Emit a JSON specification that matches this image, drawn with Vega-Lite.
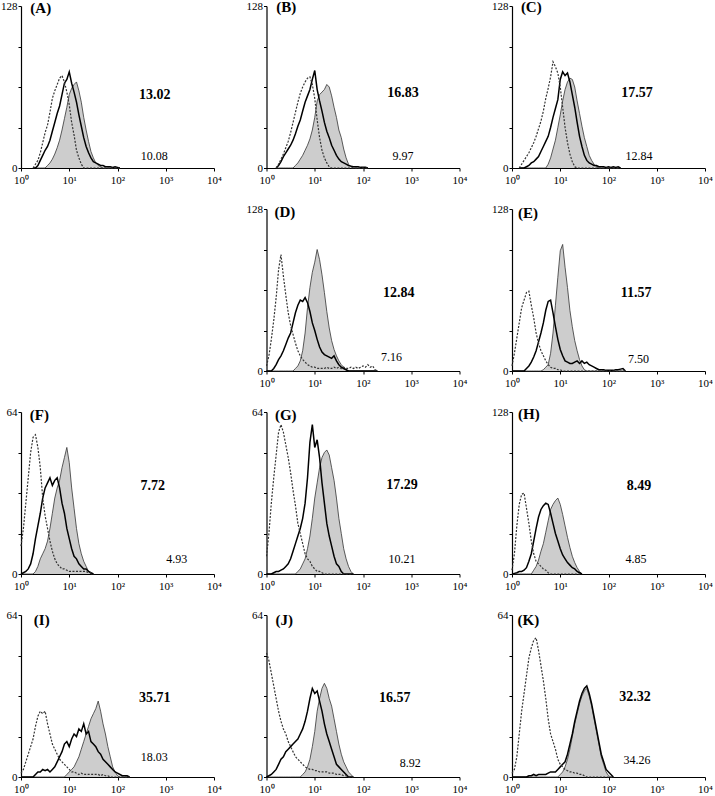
{
"$schema": "https://vega.github.io/schema/vega-lite/v6.json",
"padding": {"left": 0, "top": 0, "right": 0, "bottom": 0},
"background": "white",
"columns": 3,
"spacing": {"row": 41, "column": 52.5},
"bounds": "flush",
"config": {
  "view": {"stroke": null},
  "font": "Liberation Serif",
  "axis": {"domainColor": "black", "tickColor": "black", "labelColor": "black", "labelFont": "Liberation Serif", "labelFontSize": 11, "grid": false, "domainWidth": 1.2, "labelPadding": 1, "title": null},
  "axisX": {"labelPadding": 3},
  "text": {"font": "Liberation Serif", "color": "black"}
},
"datasets": {
"curves": [
{"p":"A","x":1.778,"g":0,"b":0,"d":0},{"p":"A","x":1.995,"g":0,"b":0,"d":3},{"p":"A","x":2.239,"g":0,"b":2,"d":6},{"p":"A","x":2.512,"g":0,"b":6,"d":12},{"p":"A","x":2.818,"g":0,"b":10,"d":20},{"p":"A","x":3.162,"g":0,"b":14,"d":28},{"p":"A","x":3.548,"g":2,"b":17,"d":34},{"p":"A","x":3.981,"g":4,"b":22,"d":44},{"p":"A","x":4.467,"g":7,"b":29,"d":55},{"p":"A","x":5.012,"g":11,"b":36,"d":61},{"p":"A","x":5.623,"g":16,"b":43,"d":66},{"p":"A","x":6.31,"g":22,"b":49,"d":71},{"p":"A","x":7.079,"g":30,"b":58,"d":73},{"p":"A","x":7.943,"g":39,"b":67,"d":68},{"p":"A","x":8.913,"g":48,"b":70,"d":60},{"p":"A","x":10,"g":58,"b":76,"d":50},{"p":"A","x":11.22,"g":63,"b":67,"d":36},{"p":"A","x":12.59,"g":66,"b":60,"d":26},{"p":"A","x":14.13,"g":68,"b":52,"d":14},{"p":"A","x":15.85,"g":61,"b":42,"d":8},{"p":"A","x":17.78,"g":52,"b":33,"d":3},{"p":"A","x":19.95,"g":40,"b":24,"d":0},{"p":"A","x":22.39,"g":30,"b":17,"d":0},{"p":"A","x":25.12,"g":21,"b":12,"d":0},{"p":"A","x":28.18,"g":13,"b":8,"d":0},{"p":"A","x":31.62,"g":8,"b":5,"d":0},{"p":"A","x":35.48,"g":4,"b":4,"d":0},{"p":"A","x":39.81,"g":2,"b":3,"d":0},{"p":"A","x":44.67,"g":1,"b":2,"d":0},{"p":"A","x":50.12,"g":0,"b":2,"d":0},{"p":"A","x":56.23,"g":0,"b":1,"d":0},{"p":"A","x":63.1,"g":0,"b":1,"d":0},{"p":"A","x":70.79,"g":0,"b":1,"d":0},{"p":"A","x":79.43,"g":0,"b":0.5,"d":0},{"p":"A","x":89.13,"g":0,"b":1,"d":0},{"p":"A","x":100,"g":0,"b":0.5,"d":0},{"p":"A","x":112.2,"g":0,"b":0,"d":0},
{"p":"B","x":1.585,"g":0,"b":0,"d":0},{"p":"B","x":1.778,"g":0,"b":2,"d":3},{"p":"B","x":1.995,"g":0,"b":5,"d":7},{"p":"B","x":2.239,"g":0,"b":9,"d":11},{"p":"B","x":2.512,"g":0,"b":12,"d":16},{"p":"B","x":2.818,"g":0,"b":15,"d":21},{"p":"B","x":3.162,"g":0,"b":18,"d":28},{"p":"B","x":3.548,"g":0,"b":22,"d":36},{"p":"B","x":3.981,"g":2,"b":27,"d":44},{"p":"B","x":4.467,"g":4,"b":33,"d":52},{"p":"B","x":5.012,"g":7,"b":38,"d":59},{"p":"B","x":5.623,"g":10,"b":45,"d":64},{"p":"B","x":6.31,"g":14,"b":52,"d":68},{"p":"B","x":7.079,"g":18,"b":57,"d":71},{"p":"B","x":7.943,"g":23,"b":62,"d":72},{"p":"B","x":8.913,"g":30,"b":70,"d":66},{"p":"B","x":10,"g":40,"b":77,"d":55},{"p":"B","x":11.22,"g":53,"b":62,"d":38},{"p":"B","x":12.59,"g":58,"b":53,"d":24},{"p":"B","x":14.13,"g":60,"b":45,"d":14},{"p":"B","x":15.85,"g":62,"b":36,"d":8},{"p":"B","x":17.78,"g":66,"b":29,"d":4},{"p":"B","x":19.95,"g":64,"b":24,"d":1},{"p":"B","x":22.39,"g":57,"b":18,"d":0},{"p":"B","x":25.12,"g":48,"b":14,"d":0},{"p":"B","x":28.18,"g":40,"b":10,"d":0},{"p":"B","x":31.62,"g":30,"b":7,"d":0},{"p":"B","x":35.48,"g":24,"b":5,"d":0},{"p":"B","x":39.81,"g":15,"b":4,"d":0},{"p":"B","x":44.67,"g":8,"b":3,"d":0},{"p":"B","x":50.12,"g":3,"b":2,"d":0},{"p":"B","x":56.23,"g":1,"b":1.5,"d":0},{"p":"B","x":63.1,"g":0,"b":1,"d":0},{"p":"B","x":70.79,"g":0,"b":1,"d":0},{"p":"B","x":79.43,"g":0,"b":1,"d":0},{"p":"B","x":89.13,"g":0,"b":0.5,"d":0},{"p":"B","x":100,"g":0,"b":0.5,"d":0},{"p":"B","x":112.2,"g":0,"b":0.5,"d":0},{"p":"B","x":125.9,"g":0,"b":0,"d":0},
{"p":"C","x":1.413,"g":0,"b":0,"d":0},{"p":"C","x":1.585,"g":0,"b":0,"d":3},{"p":"C","x":1.778,"g":0,"b":0,"d":6},{"p":"C","x":1.995,"g":0,"b":1,"d":9},{"p":"C","x":2.239,"g":0,"b":2,"d":12},{"p":"C","x":2.512,"g":0,"b":4,"d":16},{"p":"C","x":2.818,"g":0,"b":5,"d":20},{"p":"C","x":3.162,"g":0,"b":7,"d":25},{"p":"C","x":3.548,"g":0,"b":9,"d":31},{"p":"C","x":3.981,"g":0,"b":13,"d":37},{"p":"C","x":4.467,"g":0,"b":17,"d":45},{"p":"C","x":5.012,"g":0,"b":21,"d":55},{"p":"C","x":5.623,"g":3,"b":25,"d":63},{"p":"C","x":6.31,"g":8,"b":32,"d":72},{"p":"C","x":7.079,"g":15,"b":40,"d":84},{"p":"C","x":7.943,"g":22,"b":47,"d":80},{"p":"C","x":8.913,"g":32,"b":54,"d":75},{"p":"C","x":10,"g":42,"b":70,"d":64},{"p":"C","x":11.22,"g":53,"b":76,"d":48},{"p":"C","x":12.59,"g":62,"b":73,"d":32},{"p":"C","x":14.13,"g":68,"b":75,"d":20},{"p":"C","x":15.85,"g":71,"b":68,"d":11},{"p":"C","x":17.78,"g":70,"b":58,"d":5},{"p":"C","x":19.95,"g":64,"b":48,"d":1},{"p":"C","x":22.39,"g":53,"b":36,"d":0},{"p":"C","x":25.12,"g":43,"b":25,"d":0},{"p":"C","x":28.18,"g":33,"b":17,"d":0},{"p":"C","x":31.62,"g":24,"b":10,"d":0},{"p":"C","x":35.48,"g":17,"b":6,"d":0},{"p":"C","x":39.81,"g":10,"b":4,"d":0},{"p":"C","x":44.67,"g":6,"b":3,"d":0},{"p":"C","x":50.12,"g":3,"b":2,"d":0},{"p":"C","x":56.23,"g":1,"b":2,"d":0},{"p":"C","x":63.1,"g":0,"b":1,"d":0},{"p":"C","x":70.79,"g":0,"b":1,"d":0},{"p":"C","x":79.43,"g":0,"b":1,"d":0},{"p":"C","x":89.13,"g":0,"b":0.5,"d":0},{"p":"C","x":100,"g":0,"b":1,"d":0},{"p":"C","x":112.2,"g":0,"b":0.5,"d":0},{"p":"C","x":125.9,"g":0,"b":1,"d":0},{"p":"C","x":141.3,"g":0,"b":0.5,"d":0},{"p":"C","x":158.5,"g":0,"b":1,"d":0},{"p":"C","x":177.8,"g":0,"b":0,"d":0},
{"p":"D","x":1,"g":0,"b":0,"d":4},{"p":"D","x":1.122,"g":0,"b":0,"d":12},{"p":"D","x":1.259,"g":0,"b":0,"d":25},{"p":"D","x":1.413,"g":0,"b":2,"d":40},{"p":"D","x":1.585,"g":0,"b":5,"d":58},{"p":"D","x":1.778,"g":0,"b":9,"d":80},{"p":"D","x":1.995,"g":0,"b":12,"d":92},{"p":"D","x":2.239,"g":0,"b":16,"d":75},{"p":"D","x":2.512,"g":0,"b":21,"d":60},{"p":"D","x":2.818,"g":0,"b":26,"d":46},{"p":"D","x":3.162,"g":0,"b":30,"d":36},{"p":"D","x":3.548,"g":0,"b":38,"d":29},{"p":"D","x":3.981,"g":2,"b":46,"d":22},{"p":"D","x":4.467,"g":4,"b":52,"d":16},{"p":"D","x":5.012,"g":8,"b":56,"d":12},{"p":"D","x":5.623,"g":16,"b":55,"d":9},{"p":"D","x":6.31,"g":30,"b":58,"d":7},{"p":"D","x":7.079,"g":50,"b":54,"d":5},{"p":"D","x":7.943,"g":66,"b":47,"d":4},{"p":"D","x":8.913,"g":78,"b":38,"d":3},{"p":"D","x":10,"g":86,"b":32,"d":3},{"p":"D","x":11.22,"g":96,"b":25,"d":2},{"p":"D","x":12.59,"g":88,"b":19,"d":2},{"p":"D","x":14.13,"g":76,"b":15,"d":2},{"p":"D","x":15.85,"g":62,"b":13,"d":2},{"p":"D","x":17.78,"g":47,"b":12,"d":3},{"p":"D","x":19.95,"g":34,"b":11,"d":2},{"p":"D","x":22.39,"g":24,"b":10,"d":2},{"p":"D","x":25.12,"g":17,"b":12,"d":3},{"p":"D","x":28.18,"g":12,"b":8,"d":2},{"p":"D","x":31.62,"g":8,"b":5,"d":3},{"p":"D","x":35.48,"g":5,"b":3,"d":2},{"p":"D","x":39.81,"g":3,"b":2,"d":3},{"p":"D","x":44.67,"g":1,"b":1,"d":2},{"p":"D","x":50.12,"g":0,"b":0,"d":2},{"p":"D","x":56.23,"g":0,"b":0,"d":3},{"p":"D","x":63.1,"g":0,"b":0,"d":2},{"p":"D","x":70.79,"g":0,"b":0,"d":3},{"p":"D","x":79.43,"g":0,"b":0,"d":2},{"p":"D","x":89.13,"g":0,"b":0,"d":3},{"p":"D","x":100,"g":0,"b":0,"d":4},{"p":"D","x":112.2,"g":0,"b":0,"d":3},{"p":"D","x":125.9,"g":0,"b":0,"d":5},{"p":"D","x":141.3,"g":0,"b":0,"d":3},{"p":"D","x":158.5,"g":0,"b":0,"d":4},{"p":"D","x":177.8,"g":0,"b":0,"d":1},{"p":"D","x":199.5,"g":0,"b":0,"d":0},
{"p":"E","x":1,"g":0,"b":0,"d":4},{"p":"E","x":1.122,"g":0,"b":0,"d":14},{"p":"E","x":1.259,"g":0,"b":0,"d":26},{"p":"E","x":1.413,"g":0,"b":0,"d":38},{"p":"E","x":1.585,"g":0,"b":0,"d":50},{"p":"E","x":1.778,"g":0,"b":0,"d":56},{"p":"E","x":1.995,"g":0,"b":2,"d":62},{"p":"E","x":2.239,"g":0,"b":4,"d":63},{"p":"E","x":2.512,"g":0,"b":7,"d":52},{"p":"E","x":2.818,"g":0,"b":11,"d":42},{"p":"E","x":3.162,"g":0,"b":16,"d":30},{"p":"E","x":3.548,"g":0,"b":23,"d":22},{"p":"E","x":3.981,"g":0,"b":30,"d":16},{"p":"E","x":4.467,"g":1,"b":38,"d":12},{"p":"E","x":5.012,"g":3,"b":48,"d":8},{"p":"E","x":5.623,"g":5,"b":55,"d":5},{"p":"E","x":6.31,"g":14,"b":56,"d":3},{"p":"E","x":7.079,"g":30,"b":46,"d":2},{"p":"E","x":7.943,"g":52,"b":35,"d":2},{"p":"E","x":8.913,"g":74,"b":25,"d":1},{"p":"E","x":10,"g":95,"b":17,"d":1},{"p":"E","x":11.22,"g":100,"b":12,"d":0},{"p":"E","x":12.59,"g":82,"b":8,"d":0},{"p":"E","x":14.13,"g":66,"b":7,"d":0},{"p":"E","x":15.85,"g":48,"b":6,"d":0},{"p":"E","x":17.78,"g":35,"b":6,"d":0},{"p":"E","x":19.95,"g":24,"b":7,"d":0},{"p":"E","x":22.39,"g":16,"b":8,"d":0},{"p":"E","x":25.12,"g":9,"b":6,"d":0},{"p":"E","x":28.18,"g":4,"b":8,"d":0},{"p":"E","x":31.62,"g":1,"b":6,"d":0},{"p":"E","x":35.48,"g":0,"b":7,"d":0},{"p":"E","x":39.81,"g":0,"b":5,"d":0},{"p":"E","x":44.67,"g":0,"b":4,"d":0},{"p":"E","x":50.12,"g":0,"b":3,"d":0},{"p":"E","x":56.23,"g":0,"b":2,"d":0},{"p":"E","x":63.1,"g":0,"b":1,"d":0},{"p":"E","x":70.79,"g":0,"b":1,"d":0},{"p":"E","x":79.43,"g":0,"b":1,"d":0},{"p":"E","x":89.13,"g":0,"b":0.5,"d":0},{"p":"E","x":100,"g":0,"b":0.5,"d":0},{"p":"E","x":112.2,"g":0,"b":0.5,"d":0},{"p":"E","x":125.9,"g":0,"b":0.5,"d":0},{"p":"E","x":141.3,"g":0,"b":1,"d":0},{"p":"E","x":158.5,"g":0,"b":1,"d":0},{"p":"E","x":177.8,"g":0,"b":1.5,"d":0},{"p":"E","x":199.5,"g":0,"b":2,"d":0},{"p":"E","x":223.9,"g":0,"b":0,"d":0},
{"p":"F","x":1,"g":0,"b":0,"d":11},{"p":"F","x":1.122,"g":0,"b":0.5,"d":18},{"p":"F","x":1.259,"g":0,"b":1,"d":28},{"p":"F","x":1.413,"g":0,"b":2,"d":38},{"p":"F","x":1.585,"g":0,"b":4,"d":48},{"p":"F","x":1.778,"g":0,"b":8,"d":54},{"p":"F","x":1.995,"g":1,"b":14,"d":55},{"p":"F","x":2.239,"g":3,"b":19,"d":50},{"p":"F","x":2.512,"g":6,"b":24,"d":42},{"p":"F","x":2.818,"g":8,"b":30,"d":30},{"p":"F","x":3.162,"g":10,"b":34,"d":23},{"p":"F","x":3.548,"g":13,"b":36,"d":18},{"p":"F","x":3.981,"g":18,"b":38,"d":13},{"p":"F","x":4.467,"g":24,"b":35,"d":9},{"p":"F","x":5.012,"g":30,"b":37,"d":6},{"p":"F","x":5.623,"g":34,"b":38,"d":4},{"p":"F","x":6.31,"g":37,"b":34,"d":3},{"p":"F","x":7.079,"g":42,"b":28,"d":2},{"p":"F","x":7.943,"g":46,"b":24,"d":2},{"p":"F","x":8.913,"g":50,"b":18,"d":1.5},{"p":"F","x":10,"g":44,"b":14,"d":1},{"p":"F","x":11.22,"g":34,"b":10,"d":1},{"p":"F","x":12.59,"g":26,"b":7,"d":1},{"p":"F","x":14.13,"g":18,"b":6,"d":1},{"p":"F","x":15.85,"g":12,"b":4,"d":1},{"p":"F","x":17.78,"g":8,"b":3,"d":1},{"p":"F","x":19.95,"g":5,"b":2,"d":1},{"p":"F","x":22.39,"g":3,"b":2,"d":1},{"p":"F","x":25.12,"g":1,"b":1,"d":0.5},{"p":"F","x":28.18,"g":0,"b":0.5,"d":0.5},{"p":"F","x":31.62,"g":0,"b":0,"d":0},
{"p":"G","x":1,"g":0,"b":0,"d":7},{"p":"G","x":1.122,"g":0,"b":0,"d":16},{"p":"G","x":1.259,"g":0,"b":0,"d":28},{"p":"G","x":1.413,"g":0,"b":0.5,"d":38},{"p":"G","x":1.585,"g":0,"b":1,"d":47},{"p":"G","x":1.778,"g":0,"b":1,"d":56},{"p":"G","x":1.995,"g":0,"b":1.5,"d":59},{"p":"G","x":2.239,"g":0,"b":2,"d":56},{"p":"G","x":2.512,"g":0,"b":3,"d":51},{"p":"G","x":2.818,"g":0,"b":4,"d":46},{"p":"G","x":3.162,"g":0,"b":6,"d":40},{"p":"G","x":3.548,"g":0,"b":9,"d":33},{"p":"G","x":3.981,"g":0,"b":12,"d":27},{"p":"G","x":4.467,"g":1,"b":15,"d":20},{"p":"G","x":5.012,"g":2,"b":18,"d":16},{"p":"G","x":5.623,"g":4,"b":22,"d":12},{"p":"G","x":6.31,"g":6,"b":28,"d":8},{"p":"G","x":7.079,"g":10,"b":38,"d":6},{"p":"G","x":7.943,"g":15,"b":52,"d":5},{"p":"G","x":8.913,"g":22,"b":59,"d":3},{"p":"G","x":10,"g":30,"b":50,"d":2},{"p":"G","x":11.22,"g":36,"b":53,"d":1},{"p":"G","x":12.59,"g":42,"b":46,"d":1},{"p":"G","x":14.13,"g":46,"b":36,"d":0.5},{"p":"G","x":15.85,"g":48,"b":28,"d":0},{"p":"G","x":17.78,"g":49,"b":20,"d":0},{"p":"G","x":19.95,"g":47,"b":15,"d":0},{"p":"G","x":22.39,"g":42,"b":11,"d":0},{"p":"G","x":25.12,"g":37,"b":7,"d":0},{"p":"G","x":28.18,"g":30,"b":4,"d":0},{"p":"G","x":31.62,"g":22,"b":3,"d":0},{"p":"G","x":35.48,"g":16,"b":1,"d":0},{"p":"G","x":39.81,"g":10,"b":0,"d":0},{"p":"G","x":44.67,"g":6,"b":0,"d":0},{"p":"G","x":50.12,"g":3,"b":0,"d":0},{"p":"G","x":56.23,"g":1,"b":0,"d":0},{"p":"G","x":63.1,"g":0,"b":0,"d":0},
{"p":"H","x":1,"g":0,"b":0,"d":3},{"p":"H","x":1.122,"g":0,"b":0.5,"d":16},{"p":"H","x":1.259,"g":0,"b":1,"d":38},{"p":"H","x":1.413,"g":0,"b":2,"d":55},{"p":"H","x":1.585,"g":0,"b":2,"d":63},{"p":"H","x":1.778,"g":0,"b":3,"d":64},{"p":"H","x":1.995,"g":0,"b":5,"d":52},{"p":"H","x":2.239,"g":0,"b":10,"d":40},{"p":"H","x":2.512,"g":0,"b":16,"d":26},{"p":"H","x":2.818,"g":3,"b":26,"d":16},{"p":"H","x":3.162,"g":6,"b":36,"d":10},{"p":"H","x":3.548,"g":11,"b":45,"d":8},{"p":"H","x":3.981,"g":18,"b":51,"d":6},{"p":"H","x":4.467,"g":24,"b":54,"d":4},{"p":"H","x":5.012,"g":33,"b":56,"d":3},{"p":"H","x":5.623,"g":42,"b":55,"d":1},{"p":"H","x":6.31,"g":51,"b":48,"d":0},{"p":"H","x":7.079,"g":55,"b":40,"d":0},{"p":"H","x":7.943,"g":58,"b":32,"d":0},{"p":"H","x":8.913,"g":60,"b":26,"d":0},{"p":"H","x":10,"g":55,"b":20,"d":0},{"p":"H","x":11.22,"g":47,"b":15,"d":0},{"p":"H","x":12.59,"g":38,"b":12,"d":0},{"p":"H","x":14.13,"g":29,"b":9,"d":0},{"p":"H","x":15.85,"g":21,"b":7,"d":0},{"p":"H","x":17.78,"g":14,"b":5,"d":0},{"p":"H","x":19.95,"g":9,"b":4,"d":0},{"p":"H","x":22.39,"g":5,"b":2,"d":0},{"p":"H","x":25.12,"g":2,"b":1,"d":0},{"p":"H","x":28.18,"g":0,"b":0,"d":0},
{"p":"I","x":1,"g":0,"b":0,"d":1.5},{"p":"I","x":1.122,"g":0,"b":0,"d":3},{"p":"I","x":1.259,"g":0,"b":0,"d":6},{"p":"I","x":1.413,"g":0,"b":0,"d":9},{"p":"I","x":1.585,"g":0,"b":0,"d":12},{"p":"I","x":1.778,"g":0,"b":0,"d":15},{"p":"I","x":1.995,"g":0,"b":1,"d":20},{"p":"I","x":2.239,"g":0,"b":2,"d":24},{"p":"I","x":2.512,"g":0,"b":2,"d":26},{"p":"I","x":2.818,"g":0,"b":3,"d":25},{"p":"I","x":3.162,"g":0,"b":2.5,"d":26},{"p":"I","x":3.548,"g":0,"b":3,"d":21},{"p":"I","x":3.981,"g":0,"b":2,"d":17},{"p":"I","x":4.467,"g":0,"b":3,"d":13},{"p":"I","x":5.012,"g":0,"b":4,"d":11},{"p":"I","x":5.623,"g":0,"b":6,"d":9},{"p":"I","x":6.31,"g":0,"b":8,"d":7},{"p":"I","x":7.079,"g":0,"b":10,"d":6},{"p":"I","x":7.943,"g":0,"b":13,"d":5},{"p":"I","x":8.913,"g":1,"b":14,"d":4},{"p":"I","x":10,"g":2,"b":12,"d":3},{"p":"I","x":11.22,"g":3,"b":15,"d":2},{"p":"I","x":12.59,"g":4,"b":17,"d":2},{"p":"I","x":14.13,"g":6,"b":16,"d":1.5},{"p":"I","x":15.85,"g":8,"b":19,"d":1},{"p":"I","x":17.78,"g":11,"b":18,"d":1.5},{"p":"I","x":19.95,"g":14,"b":21,"d":1},{"p":"I","x":22.39,"g":17,"b":17,"d":1},{"p":"I","x":25.12,"g":20,"b":18,"d":1},{"p":"I","x":28.18,"g":23,"b":14,"d":1},{"p":"I","x":31.62,"g":25,"b":13,"d":1},{"p":"I","x":35.48,"g":27,"b":12,"d":1},{"p":"I","x":39.81,"g":30,"b":10,"d":1},{"p":"I","x":44.67,"g":26,"b":9,"d":0.5},{"p":"I","x":50.12,"g":21,"b":7,"d":1},{"p":"I","x":56.23,"g":17,"b":6,"d":0.5},{"p":"I","x":63.1,"g":12,"b":5,"d":0.5},{"p":"I","x":70.79,"g":8,"b":4,"d":0},{"p":"I","x":79.43,"g":4,"b":3,"d":0},{"p":"I","x":89.13,"g":2,"b":2,"d":0},{"p":"I","x":100,"g":0.5,"b":1.5,"d":0},{"p":"I","x":112.2,"g":0,"b":1,"d":0},{"p":"I","x":125.9,"g":0,"b":0.5,"d":0},{"p":"I","x":141.3,"g":0,"b":0.5,"d":0},{"p":"I","x":158.5,"g":0,"b":0.5,"d":0},{"p":"I","x":177.8,"g":0,"b":0,"d":0},
{"p":"J","x":1,"g":0,"b":0,"d":49},{"p":"J","x":1.122,"g":0,"b":0.5,"d":46},{"p":"J","x":1.259,"g":0,"b":1,"d":41},{"p":"J","x":1.413,"g":0,"b":2,"d":36},{"p":"J","x":1.585,"g":0,"b":3,"d":31},{"p":"J","x":1.778,"g":0,"b":5,"d":26},{"p":"J","x":1.995,"g":0,"b":7,"d":22},{"p":"J","x":2.239,"g":0,"b":8,"d":19},{"p":"J","x":2.512,"g":0,"b":10,"d":17},{"p":"J","x":2.818,"g":0,"b":11,"d":14},{"p":"J","x":3.162,"g":0,"b":12,"d":12},{"p":"J","x":3.548,"g":0,"b":13,"d":10},{"p":"J","x":3.981,"g":0,"b":14,"d":8},{"p":"J","x":4.467,"g":0,"b":15,"d":7},{"p":"J","x":5.012,"g":0,"b":17,"d":6},{"p":"J","x":5.623,"g":1,"b":19,"d":5},{"p":"J","x":6.31,"g":2,"b":22,"d":4},{"p":"J","x":7.079,"g":4,"b":26,"d":3.5},{"p":"J","x":7.943,"g":7,"b":31,"d":3},{"p":"J","x":8.913,"g":12,"b":35,"d":3},{"p":"J","x":10,"g":18,"b":33,"d":2.5},{"p":"J","x":11.22,"g":26,"b":34,"d":2.5},{"p":"J","x":12.59,"g":31,"b":30,"d":2},{"p":"J","x":14.13,"g":35,"b":26,"d":2},{"p":"J","x":15.85,"g":37,"b":21,"d":2},{"p":"J","x":17.78,"g":35,"b":17,"d":2},{"p":"J","x":19.95,"g":31,"b":14,"d":1.5},{"p":"J","x":22.39,"g":28,"b":11,"d":1.5},{"p":"J","x":25.12,"g":23,"b":8,"d":1.5},{"p":"J","x":28.18,"g":18,"b":5,"d":1},{"p":"J","x":31.62,"g":13,"b":4,"d":1},{"p":"J","x":35.48,"g":9,"b":3,"d":1},{"p":"J","x":39.81,"g":6,"b":2,"d":0.5},{"p":"J","x":44.67,"g":4,"b":1,"d":0.5},{"p":"J","x":50.12,"g":2,"b":0,"d":0},{"p":"J","x":56.23,"g":1,"b":0,"d":0},{"p":"J","x":63.1,"g":0,"b":0,"d":0},
{"p":"K","x":1,"g":0,"b":0,"d":1.5},{"p":"K","x":1.122,"g":0,"b":0,"d":3},{"p":"K","x":1.259,"g":0,"b":0,"d":8},{"p":"K","x":1.413,"g":0,"b":0,"d":17},{"p":"K","x":1.585,"g":0,"b":0,"d":26},{"p":"K","x":1.778,"g":0,"b":0,"d":33},{"p":"K","x":1.995,"g":0,"b":0,"d":40},{"p":"K","x":2.239,"g":0,"b":0.5,"d":47},{"p":"K","x":2.512,"g":0,"b":0.5,"d":51},{"p":"K","x":2.818,"g":0,"b":1,"d":54},{"p":"K","x":3.162,"g":0,"b":0.5,"d":55},{"p":"K","x":3.548,"g":0,"b":1,"d":50},{"p":"K","x":3.981,"g":0,"b":1,"d":44},{"p":"K","x":4.467,"g":0,"b":1,"d":38},{"p":"K","x":5.012,"g":0,"b":1,"d":31},{"p":"K","x":5.623,"g":0,"b":1.5,"d":23},{"p":"K","x":6.31,"g":0,"b":2,"d":17},{"p":"K","x":7.079,"g":0,"b":2,"d":14},{"p":"K","x":7.943,"g":0,"b":2,"d":11},{"p":"K","x":8.913,"g":0,"b":3,"d":7},{"p":"K","x":10,"g":1,"b":4,"d":5},{"p":"K","x":11.22,"g":2,"b":5,"d":4},{"p":"K","x":12.59,"g":4,"b":6,"d":3},{"p":"K","x":14.13,"g":7,"b":9,"d":2.5},{"p":"K","x":15.85,"g":11,"b":13,"d":2},{"p":"K","x":17.78,"g":16,"b":17,"d":2},{"p":"K","x":19.95,"g":21,"b":22,"d":1.5},{"p":"K","x":22.39,"g":25,"b":26,"d":1.5},{"p":"K","x":25.12,"g":29,"b":30,"d":1},{"p":"K","x":28.18,"g":32,"b":33,"d":1},{"p":"K","x":31.62,"g":34,"b":35,"d":0.5},{"p":"K","x":35.48,"g":35,"b":36,"d":0},{"p":"K","x":39.81,"g":32,"b":33,"d":0},{"p":"K","x":44.67,"g":28,"b":29,"d":0},{"p":"K","x":50.12,"g":23,"b":24,"d":0},{"p":"K","x":56.23,"g":18,"b":19,"d":0},{"p":"K","x":63.1,"g":13,"b":14,"d":0},{"p":"K","x":70.79,"g":8,"b":9,"d":0},{"p":"K","x":79.43,"g":5,"b":6,"d":0},{"p":"K","x":89.13,"g":2,"b":3,"d":0},{"p":"K","x":100,"g":0.5,"b":2,"d":0},{"p":"K","x":112.2,"g":0,"b":1,"d":0},{"p":"K","x":125.9,"g":0,"b":0,"d":0}
],
"labels": [
{"p":"A","k":"L","t":"(A)","x":2.57,"y":126.5},{"p":"A","k":"B","t":"13.02","x":589,"y":58},{"p":"A","k":"S","t":"10.08","x":575,"y":9.3},
{"p":"B","k":"L","t":"(B)","x":2.57,"y":127},{"p":"B","k":"B","t":"16.83","x":676,"y":59},{"p":"B","k":"S","t":"9.97","x":676,"y":9.3},
{"p":"C","k":"L","t":"(C)","x":2.51,"y":127},{"p":"C","k":"B","t":"17.57","x":389,"y":59},{"p":"C","k":"S","t":"12.84","x":427,"y":9.3},
{"p":"D","k":"L","t":"(D)","x":2.4,"y":125.5},{"p":"D","k":"B","t":"12.84","x":550,"y":62},{"p":"D","k":"S","t":"7.16","x":389,"y":11},
{"p":"E","k":"L","t":"(E)","x":2.14,"y":125},{"p":"E","k":"B","t":"11.57","x":372,"y":62},{"p":"E","k":"S","t":"7.50","x":417,"y":9.4},
{"p":"F","k":"L","t":"(F)","x":2.4,"y":63},{"p":"F","k":"B","t":"7.72","x":537,"y":34.7},{"p":"F","k":"S","t":"4.93","x":1698,"y":5.8},
{"p":"G","k":"L","t":"(G)","x":2.51,"y":63},{"p":"G","k":"B","t":"17.29","x":646,"y":35.2},{"p":"G","k":"S","t":"10.21","x":646,"y":5.9},
{"p":"H","k":"L","t":"(H)","x":2.24,"y":126.5},{"p":"H","k":"B","t":"8.49","x":427,"y":69.5},{"p":"H","k":"S","t":"4.85","x":372,"y":11.5},
{"p":"I","k":"L","t":"(I)","x":2.69,"y":62},{"p":"I","k":"B","t":"35.71","x":589,"y":31.4},{"p":"I","k":"S","t":"18.03","x":575,"y":8},
{"p":"J","k":"L","t":"(J)","x":2.34,"y":62},{"p":"J","k":"B","t":"16.57","x":457,"y":31.4},{"p":"J","k":"S","t":"8.92","x":955,"y":5.5},
{"p":"K","k":"L","t":"(K)","x":2.19,"y":62},{"p":"K","k":"B","t":"32.32","x":355,"y":31.7},{"p":"K","k":"S","t":"34.26","x":389,"y":6.6}
]
},
"concat": [
{"width":193,"height":162,
 "encoding":{"x":{"field":"x","type":"quantitative","scale":{"type":"log","domain":[1,10000]},"axis":{"values":[1,10,100,1000,10000],"labelExpr":"datum.value==1?'10⁰':datum.value==10?'10¹':datum.value==100?'10²':datum.value==1000?'10³':'10⁴'","labelFlush":false,"labelOverlap":false,"tickSize":3}},
  "y":{"field":"g","type":"quantitative","scale":{"domain":[0,128],"nice":false,"zero":true},"axis":{"values":[0,32,64,96,128],"labelExpr":"datum.value==0||datum.value==128?datum.label:''","tickSize":3}}},
 "layer":[
  {"data":{"name":"curves"},"transform":[{"filter":"datum.p=='A'"}],"mark":{"type":"area","color":"#b8b8b8","line":{"color":"#333333","strokeWidth":0.8}}},
  {"data":{"name":"curves"},"transform":[{"filter":"datum.p=='A'"}],"mark":{"type":"line","color":"black","strokeWidth":1.5},"encoding":{"y":{"field":"b","type":"quantitative"}}},
  {"data":{"name":"curves"},"transform":[{"filter":"datum.p=='A'"}],"mark":{"type":"line","color":"#333333","strokeWidth":1.2,"strokeDash":[2,1.5]},"encoding":{"y":{"field":"d","type":"quantitative"}}},
  {"data":{"name":"labels"},"transform":[{"filter":"datum.p=='A'&&datum.k=='L'"}],"mark":{"type":"text","fontWeight":"bold","fontSize":15,"baseline":"middle"},"encoding":{"y":{"field":"y","type":"quantitative"},"text":{"field":"t"}}},
  {"data":{"name":"labels"},"transform":[{"filter":"datum.p=='A'&&datum.k=='B'"}],"mark":{"type":"text","fontWeight":"bold","fontSize":14,"baseline":"middle"},"encoding":{"y":{"field":"y","type":"quantitative"},"text":{"field":"t"}}},
  {"data":{"name":"labels"},"transform":[{"filter":"datum.p=='A'&&datum.k=='S'"}],"mark":{"type":"text","fontSize":12,"baseline":"middle"},"encoding":{"y":{"field":"y","type":"quantitative"},"text":{"field":"t"}}}
 ]},
{"width":193,"height":162,
 "encoding":{"x":{"field":"x","type":"quantitative","scale":{"type":"log","domain":[1,10000]},"axis":{"values":[1,10,100,1000,10000],"labelExpr":"datum.value==1?'10⁰':datum.value==10?'10¹':datum.value==100?'10²':datum.value==1000?'10³':'10⁴'","labelFlush":false,"labelOverlap":false,"tickSize":3}},
  "y":{"field":"g","type":"quantitative","scale":{"domain":[0,128],"nice":false,"zero":true},"axis":{"values":[0,32,64,96,128],"labelExpr":"datum.value==0||datum.value==128?datum.label:''","tickSize":3}}},
 "layer":[
  {"data":{"name":"curves"},"transform":[{"filter":"datum.p=='B'"}],"mark":{"type":"area","color":"#b8b8b8","line":{"color":"#333333","strokeWidth":0.8}}},
  {"data":{"name":"curves"},"transform":[{"filter":"datum.p=='B'"}],"mark":{"type":"line","color":"black","strokeWidth":1.5},"encoding":{"y":{"field":"b","type":"quantitative"}}},
  {"data":{"name":"curves"},"transform":[{"filter":"datum.p=='B'"}],"mark":{"type":"line","color":"#333333","strokeWidth":1.2,"strokeDash":[2,1.5]},"encoding":{"y":{"field":"d","type":"quantitative"}}},
  {"data":{"name":"labels"},"transform":[{"filter":"datum.p=='B'&&datum.k=='L'"}],"mark":{"type":"text","fontWeight":"bold","fontSize":15,"baseline":"middle"},"encoding":{"y":{"field":"y","type":"quantitative"},"text":{"field":"t"}}},
  {"data":{"name":"labels"},"transform":[{"filter":"datum.p=='B'&&datum.k=='B'"}],"mark":{"type":"text","fontWeight":"bold","fontSize":14,"baseline":"middle"},"encoding":{"y":{"field":"y","type":"quantitative"},"text":{"field":"t"}}},
  {"data":{"name":"labels"},"transform":[{"filter":"datum.p=='B'&&datum.k=='S'"}],"mark":{"type":"text","fontSize":12,"baseline":"middle"},"encoding":{"y":{"field":"y","type":"quantitative"},"text":{"field":"t"}}}
 ]},
{"width":193,"height":162,
 "encoding":{"x":{"field":"x","type":"quantitative","scale":{"type":"log","domain":[1,10000]},"axis":{"values":[1,10,100,1000,10000],"labelExpr":"datum.value==1?'10⁰':datum.value==10?'10¹':datum.value==100?'10²':datum.value==1000?'10³':'10⁴'","labelFlush":false,"labelOverlap":false,"tickSize":3}},
  "y":{"field":"g","type":"quantitative","scale":{"domain":[0,128],"nice":false,"zero":true},"axis":{"values":[0,32,64,96,128],"labelExpr":"datum.value==0||datum.value==128?datum.label:''","tickSize":3}}},
 "layer":[
  {"data":{"name":"curves"},"transform":[{"filter":"datum.p=='C'"}],"mark":{"type":"area","color":"#b8b8b8","line":{"color":"#333333","strokeWidth":0.8}}},
  {"data":{"name":"curves"},"transform":[{"filter":"datum.p=='C'"}],"mark":{"type":"line","color":"black","strokeWidth":1.5},"encoding":{"y":{"field":"b","type":"quantitative"}}},
  {"data":{"name":"curves"},"transform":[{"filter":"datum.p=='C'"}],"mark":{"type":"line","color":"#333333","strokeWidth":1.2,"strokeDash":[2,1.5]},"encoding":{"y":{"field":"d","type":"quantitative"}}},
  {"data":{"name":"labels"},"transform":[{"filter":"datum.p=='C'&&datum.k=='L'"}],"mark":{"type":"text","fontWeight":"bold","fontSize":15,"baseline":"middle"},"encoding":{"y":{"field":"y","type":"quantitative"},"text":{"field":"t"}}},
  {"data":{"name":"labels"},"transform":[{"filter":"datum.p=='C'&&datum.k=='B'"}],"mark":{"type":"text","fontWeight":"bold","fontSize":14,"baseline":"middle"},"encoding":{"y":{"field":"y","type":"quantitative"},"text":{"field":"t"}}},
  {"data":{"name":"labels"},"transform":[{"filter":"datum.p=='C'&&datum.k=='S'"}],"mark":{"type":"text","fontSize":12,"baseline":"middle"},"encoding":{"y":{"field":"y","type":"quantitative"},"text":{"field":"t"}}}
 ]},
{"width":193,"height":162,"data":{"values":[{"blank":1}]},"mark":{"type":"text","text":""},"encoding":{}},
{"width":193,"height":162,
 "encoding":{"x":{"field":"x","type":"quantitative","scale":{"type":"log","domain":[1,10000]},"axis":{"values":[1,10,100,1000,10000],"labelExpr":"datum.value==1?'10⁰':datum.value==10?'10¹':datum.value==100?'10²':datum.value==1000?'10³':'10⁴'","labelFlush":false,"labelOverlap":false,"tickSize":3}},
  "y":{"field":"g","type":"quantitative","scale":{"domain":[0,128],"nice":false,"zero":true},"axis":{"values":[0,32,64,96,128],"labelExpr":"datum.value==0||datum.value==128?datum.label:''","tickSize":3}}},
 "layer":[
  {"data":{"name":"curves"},"transform":[{"filter":"datum.p=='D'"}],"mark":{"type":"area","color":"#b8b8b8","line":{"color":"#333333","strokeWidth":0.8}}},
  {"data":{"name":"curves"},"transform":[{"filter":"datum.p=='D'"}],"mark":{"type":"line","color":"black","strokeWidth":1.5},"encoding":{"y":{"field":"b","type":"quantitative"}}},
  {"data":{"name":"curves"},"transform":[{"filter":"datum.p=='D'"}],"mark":{"type":"line","color":"#333333","strokeWidth":1.2,"strokeDash":[2,1.5]},"encoding":{"y":{"field":"d","type":"quantitative"}}},
  {"data":{"name":"labels"},"transform":[{"filter":"datum.p=='D'&&datum.k=='L'"}],"mark":{"type":"text","fontWeight":"bold","fontSize":15,"baseline":"middle"},"encoding":{"y":{"field":"y","type":"quantitative"},"text":{"field":"t"}}},
  {"data":{"name":"labels"},"transform":[{"filter":"datum.p=='D'&&datum.k=='B'"}],"mark":{"type":"text","fontWeight":"bold","fontSize":14,"baseline":"middle"},"encoding":{"y":{"field":"y","type":"quantitative"},"text":{"field":"t"}}},
  {"data":{"name":"labels"},"transform":[{"filter":"datum.p=='D'&&datum.k=='S'"}],"mark":{"type":"text","fontSize":12,"baseline":"middle"},"encoding":{"y":{"field":"y","type":"quantitative"},"text":{"field":"t"}}}
 ]},
{"width":193,"height":162,
 "encoding":{"x":{"field":"x","type":"quantitative","scale":{"type":"log","domain":[1,10000]},"axis":{"values":[1,10,100,1000,10000],"labelExpr":"datum.value==1?'10⁰':datum.value==10?'10¹':datum.value==100?'10²':datum.value==1000?'10³':'10⁴'","labelFlush":false,"labelOverlap":false,"tickSize":3}},
  "y":{"field":"g","type":"quantitative","scale":{"domain":[0,128],"nice":false,"zero":true},"axis":{"values":[0,32,64,96,128],"labelExpr":"datum.value==0||datum.value==128?datum.label:''","tickSize":3}}},
 "layer":[
  {"data":{"name":"curves"},"transform":[{"filter":"datum.p=='E'"}],"mark":{"type":"area","color":"#b8b8b8","line":{"color":"#333333","strokeWidth":0.8}}},
  {"data":{"name":"curves"},"transform":[{"filter":"datum.p=='E'"}],"mark":{"type":"line","color":"black","strokeWidth":1.5},"encoding":{"y":{"field":"b","type":"quantitative"}}},
  {"data":{"name":"curves"},"transform":[{"filter":"datum.p=='E'"}],"mark":{"type":"line","color":"#333333","strokeWidth":1.2,"strokeDash":[2,1.5]},"encoding":{"y":{"field":"d","type":"quantitative"}}},
  {"data":{"name":"labels"},"transform":[{"filter":"datum.p=='E'&&datum.k=='L'"}],"mark":{"type":"text","fontWeight":"bold","fontSize":15,"baseline":"middle"},"encoding":{"y":{"field":"y","type":"quantitative"},"text":{"field":"t"}}},
  {"data":{"name":"labels"},"transform":[{"filter":"datum.p=='E'&&datum.k=='B'"}],"mark":{"type":"text","fontWeight":"bold","fontSize":14,"baseline":"middle"},"encoding":{"y":{"field":"y","type":"quantitative"},"text":{"field":"t"}}},
  {"data":{"name":"labels"},"transform":[{"filter":"datum.p=='E'&&datum.k=='S'"}],"mark":{"type":"text","fontSize":12,"baseline":"middle"},"encoding":{"y":{"field":"y","type":"quantitative"},"text":{"field":"t"}}}
 ]},
{"width":193,"height":162,
 "encoding":{"x":{"field":"x","type":"quantitative","scale":{"type":"log","domain":[1,10000]},"axis":{"values":[1,10,100,1000,10000],"labelExpr":"datum.value==1?'10⁰':datum.value==10?'10¹':datum.value==100?'10²':datum.value==1000?'10³':'10⁴'","labelFlush":false,"labelOverlap":false,"tickSize":3}},
  "y":{"field":"g","type":"quantitative","scale":{"domain":[0,64],"nice":false,"zero":true},"axis":{"values":[0,16,32,48,64],"labelExpr":"datum.value==0||datum.value==64?datum.label:''","tickSize":3}}},
 "layer":[
  {"data":{"name":"curves"},"transform":[{"filter":"datum.p=='F'"}],"mark":{"type":"area","color":"#b8b8b8","line":{"color":"#333333","strokeWidth":0.8}}},
  {"data":{"name":"curves"},"transform":[{"filter":"datum.p=='F'"}],"mark":{"type":"line","color":"black","strokeWidth":1.5},"encoding":{"y":{"field":"b","type":"quantitative"}}},
  {"data":{"name":"curves"},"transform":[{"filter":"datum.p=='F'"}],"mark":{"type":"line","color":"#333333","strokeWidth":1.2,"strokeDash":[2,1.5]},"encoding":{"y":{"field":"d","type":"quantitative"}}},
  {"data":{"name":"labels"},"transform":[{"filter":"datum.p=='F'&&datum.k=='L'"}],"mark":{"type":"text","fontWeight":"bold","fontSize":15,"baseline":"middle"},"encoding":{"y":{"field":"y","type":"quantitative"},"text":{"field":"t"}}},
  {"data":{"name":"labels"},"transform":[{"filter":"datum.p=='F'&&datum.k=='B'"}],"mark":{"type":"text","fontWeight":"bold","fontSize":14,"baseline":"middle"},"encoding":{"y":{"field":"y","type":"quantitative"},"text":{"field":"t"}}},
  {"data":{"name":"labels"},"transform":[{"filter":"datum.p=='F'&&datum.k=='S'"}],"mark":{"type":"text","fontSize":12,"baseline":"middle"},"encoding":{"y":{"field":"y","type":"quantitative"},"text":{"field":"t"}}}
 ]},
{"width":193,"height":162,
 "encoding":{"x":{"field":"x","type":"quantitative","scale":{"type":"log","domain":[1,10000]},"axis":{"values":[1,10,100,1000,10000],"labelExpr":"datum.value==1?'10⁰':datum.value==10?'10¹':datum.value==100?'10²':datum.value==1000?'10³':'10⁴'","labelFlush":false,"labelOverlap":false,"tickSize":3}},
  "y":{"field":"g","type":"quantitative","scale":{"domain":[0,64],"nice":false,"zero":true},"axis":{"values":[0,16,32,48,64],"labelExpr":"datum.value==0||datum.value==64?datum.label:''","tickSize":3}}},
 "layer":[
  {"data":{"name":"curves"},"transform":[{"filter":"datum.p=='G'"}],"mark":{"type":"area","color":"#b8b8b8","line":{"color":"#333333","strokeWidth":0.8}}},
  {"data":{"name":"curves"},"transform":[{"filter":"datum.p=='G'"}],"mark":{"type":"line","color":"black","strokeWidth":1.5},"encoding":{"y":{"field":"b","type":"quantitative"}}},
  {"data":{"name":"curves"},"transform":[{"filter":"datum.p=='G'"}],"mark":{"type":"line","color":"#333333","strokeWidth":1.2,"strokeDash":[2,1.5]},"encoding":{"y":{"field":"d","type":"quantitative"}}},
  {"data":{"name":"labels"},"transform":[{"filter":"datum.p=='G'&&datum.k=='L'"}],"mark":{"type":"text","fontWeight":"bold","fontSize":15,"baseline":"middle"},"encoding":{"y":{"field":"y","type":"quantitative"},"text":{"field":"t"}}},
  {"data":{"name":"labels"},"transform":[{"filter":"datum.p=='G'&&datum.k=='B'"}],"mark":{"type":"text","fontWeight":"bold","fontSize":14,"baseline":"middle"},"encoding":{"y":{"field":"y","type":"quantitative"},"text":{"field":"t"}}},
  {"data":{"name":"labels"},"transform":[{"filter":"datum.p=='G'&&datum.k=='S'"}],"mark":{"type":"text","fontSize":12,"baseline":"middle"},"encoding":{"y":{"field":"y","type":"quantitative"},"text":{"field":"t"}}}
 ]},
{"width":193,"height":162,
 "encoding":{"x":{"field":"x","type":"quantitative","scale":{"type":"log","domain":[1,10000]},"axis":{"values":[1,10,100,1000,10000],"labelExpr":"datum.value==1?'10⁰':datum.value==10?'10¹':datum.value==100?'10²':datum.value==1000?'10³':'10⁴'","labelFlush":false,"labelOverlap":false,"tickSize":3}},
  "y":{"field":"g","type":"quantitative","scale":{"domain":[0,128],"nice":false,"zero":true},"axis":{"values":[0,32,64,96,128],"labelExpr":"datum.value==0||datum.value==128?datum.label:''","tickSize":3}}},
 "layer":[
  {"data":{"name":"curves"},"transform":[{"filter":"datum.p=='H'"}],"mark":{"type":"area","color":"#b8b8b8","line":{"color":"#333333","strokeWidth":0.8}}},
  {"data":{"name":"curves"},"transform":[{"filter":"datum.p=='H'"}],"mark":{"type":"line","color":"black","strokeWidth":1.5},"encoding":{"y":{"field":"b","type":"quantitative"}}},
  {"data":{"name":"curves"},"transform":[{"filter":"datum.p=='H'"}],"mark":{"type":"line","color":"#333333","strokeWidth":1.2,"strokeDash":[2,1.5]},"encoding":{"y":{"field":"d","type":"quantitative"}}},
  {"data":{"name":"labels"},"transform":[{"filter":"datum.p=='H'&&datum.k=='L'"}],"mark":{"type":"text","fontWeight":"bold","fontSize":15,"baseline":"middle"},"encoding":{"y":{"field":"y","type":"quantitative"},"text":{"field":"t"}}},
  {"data":{"name":"labels"},"transform":[{"filter":"datum.p=='H'&&datum.k=='B'"}],"mark":{"type":"text","fontWeight":"bold","fontSize":14,"baseline":"middle"},"encoding":{"y":{"field":"y","type":"quantitative"},"text":{"field":"t"}}},
  {"data":{"name":"labels"},"transform":[{"filter":"datum.p=='H'&&datum.k=='S'"}],"mark":{"type":"text","fontSize":12,"baseline":"middle"},"encoding":{"y":{"field":"y","type":"quantitative"},"text":{"field":"t"}}}
 ]},
{"width":193,"height":162,
 "encoding":{"x":{"field":"x","type":"quantitative","scale":{"type":"log","domain":[1,10000]},"axis":{"values":[1,10,100,1000,10000],"labelExpr":"datum.value==1?'10⁰':datum.value==10?'10¹':datum.value==100?'10²':datum.value==1000?'10³':'10⁴'","labelFlush":false,"labelOverlap":false,"tickSize":3}},
  "y":{"field":"g","type":"quantitative","scale":{"domain":[0,64],"nice":false,"zero":true},"axis":{"values":[0,16,32,48,64],"labelExpr":"datum.value==0||datum.value==64?datum.label:''","tickSize":3}}},
 "layer":[
  {"data":{"name":"curves"},"transform":[{"filter":"datum.p=='I'"}],"mark":{"type":"area","color":"#b8b8b8","line":{"color":"#333333","strokeWidth":0.8}}},
  {"data":{"name":"curves"},"transform":[{"filter":"datum.p=='I'"}],"mark":{"type":"line","color":"black","strokeWidth":1.5},"encoding":{"y":{"field":"b","type":"quantitative"}}},
  {"data":{"name":"curves"},"transform":[{"filter":"datum.p=='I'"}],"mark":{"type":"line","color":"#333333","strokeWidth":1.2,"strokeDash":[2,1.5]},"encoding":{"y":{"field":"d","type":"quantitative"}}},
  {"data":{"name":"labels"},"transform":[{"filter":"datum.p=='I'&&datum.k=='L'"}],"mark":{"type":"text","fontWeight":"bold","fontSize":15,"baseline":"middle"},"encoding":{"y":{"field":"y","type":"quantitative"},"text":{"field":"t"}}},
  {"data":{"name":"labels"},"transform":[{"filter":"datum.p=='I'&&datum.k=='B'"}],"mark":{"type":"text","fontWeight":"bold","fontSize":14,"baseline":"middle"},"encoding":{"y":{"field":"y","type":"quantitative"},"text":{"field":"t"}}},
  {"data":{"name":"labels"},"transform":[{"filter":"datum.p=='I'&&datum.k=='S'"}],"mark":{"type":"text","fontSize":12,"baseline":"middle"},"encoding":{"y":{"field":"y","type":"quantitative"},"text":{"field":"t"}}}
 ]},
{"width":193,"height":162,
 "encoding":{"x":{"field":"x","type":"quantitative","scale":{"type":"log","domain":[1,10000]},"axis":{"values":[1,10,100,1000,10000],"labelExpr":"datum.value==1?'10⁰':datum.value==10?'10¹':datum.value==100?'10²':datum.value==1000?'10³':'10⁴'","labelFlush":false,"labelOverlap":false,"tickSize":3}},
  "y":{"field":"g","type":"quantitative","scale":{"domain":[0,64],"nice":false,"zero":true},"axis":{"values":[0,16,32,48,64],"labelExpr":"datum.value==0||datum.value==64?datum.label:''","tickSize":3}}},
 "layer":[
  {"data":{"name":"curves"},"transform":[{"filter":"datum.p=='J'"}],"mark":{"type":"area","color":"#b8b8b8","line":{"color":"#333333","strokeWidth":0.8}}},
  {"data":{"name":"curves"},"transform":[{"filter":"datum.p=='J'"}],"mark":{"type":"line","color":"black","strokeWidth":1.5},"encoding":{"y":{"field":"b","type":"quantitative"}}},
  {"data":{"name":"curves"},"transform":[{"filter":"datum.p=='J'"}],"mark":{"type":"line","color":"#333333","strokeWidth":1.2,"strokeDash":[2,1.5]},"encoding":{"y":{"field":"d","type":"quantitative"}}},
  {"data":{"name":"labels"},"transform":[{"filter":"datum.p=='J'&&datum.k=='L'"}],"mark":{"type":"text","fontWeight":"bold","fontSize":15,"baseline":"middle"},"encoding":{"y":{"field":"y","type":"quantitative"},"text":{"field":"t"}}},
  {"data":{"name":"labels"},"transform":[{"filter":"datum.p=='J'&&datum.k=='B'"}],"mark":{"type":"text","fontWeight":"bold","fontSize":14,"baseline":"middle"},"encoding":{"y":{"field":"y","type":"quantitative"},"text":{"field":"t"}}},
  {"data":{"name":"labels"},"transform":[{"filter":"datum.p=='J'&&datum.k=='S'"}],"mark":{"type":"text","fontSize":12,"baseline":"middle"},"encoding":{"y":{"field":"y","type":"quantitative"},"text":{"field":"t"}}}
 ]},
{"width":193,"height":162,
 "encoding":{"x":{"field":"x","type":"quantitative","scale":{"type":"log","domain":[1,10000]},"axis":{"values":[1,10,100,1000,10000],"labelExpr":"datum.value==1?'10⁰':datum.value==10?'10¹':datum.value==100?'10²':datum.value==1000?'10³':'10⁴'","labelFlush":false,"labelOverlap":false,"tickSize":3}},
  "y":{"field":"g","type":"quantitative","scale":{"domain":[0,64],"nice":false,"zero":true},"axis":{"values":[0,16,32,48,64],"labelExpr":"datum.value==0||datum.value==64?datum.label:''","tickSize":3}}},
 "layer":[
  {"data":{"name":"curves"},"transform":[{"filter":"datum.p=='K'"}],"mark":{"type":"area","color":"#b8b8b8","line":{"color":"#333333","strokeWidth":0.8}}},
  {"data":{"name":"curves"},"transform":[{"filter":"datum.p=='K'"}],"mark":{"type":"line","color":"black","strokeWidth":1.5},"encoding":{"y":{"field":"b","type":"quantitative"}}},
  {"data":{"name":"curves"},"transform":[{"filter":"datum.p=='K'"}],"mark":{"type":"line","color":"#333333","strokeWidth":1.2,"strokeDash":[2,1.5]},"encoding":{"y":{"field":"d","type":"quantitative"}}},
  {"data":{"name":"labels"},"transform":[{"filter":"datum.p=='K'&&datum.k=='L'"}],"mark":{"type":"text","fontWeight":"bold","fontSize":15,"baseline":"middle"},"encoding":{"y":{"field":"y","type":"quantitative"},"text":{"field":"t"}}},
  {"data":{"name":"labels"},"transform":[{"filter":"datum.p=='K'&&datum.k=='B'"}],"mark":{"type":"text","fontWeight":"bold","fontSize":14,"baseline":"middle"},"encoding":{"y":{"field":"y","type":"quantitative"},"text":{"field":"t"}}},
  {"data":{"name":"labels"},"transform":[{"filter":"datum.p=='K'&&datum.k=='S'"}],"mark":{"type":"text","fontSize":12,"baseline":"middle"},"encoding":{"y":{"field":"y","type":"quantitative"},"text":{"field":"t"}}}
 ]}
]
}
